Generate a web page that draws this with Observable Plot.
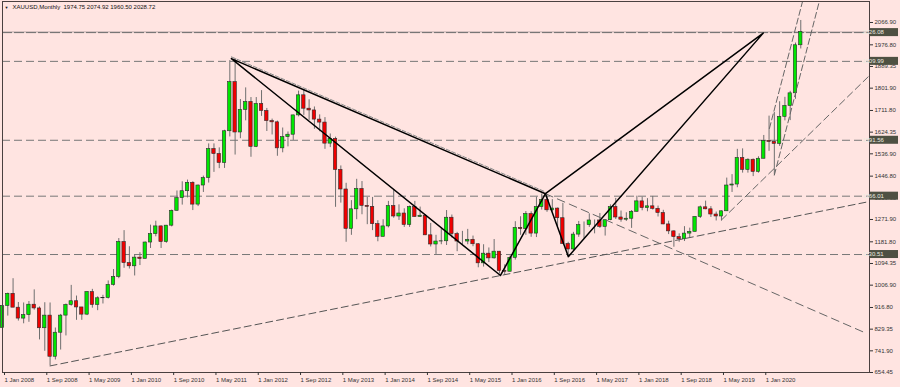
<!DOCTYPE html>
<html><head><meta charset="utf-8">
<script src="https://cdn.jsdelivr.net/npm/d3@7"></script>
<script src="https://cdn.jsdelivr.net/npm/@observablehq/plot@0.6"></script>
<style>
html,body{margin:0;padding:0;background:#ffe4e1;}
#chart{width:900px;height:387px;overflow:hidden;position:relative}
</style></head><body><div id="chart"></div>
<script>
// ---- data (monthly XAUUSD bars, first bar = Jan 2008) ----
const startYear = 2008;
const monthNames = ["Jan","Feb","Mar","Apr","May","Jun","Jul","Aug","Sep","Oct","Nov","Dec"];
const open = [
 834,923,972,916,872,886,928,913,833,884,718,815,
 884,927,942,917,888,979,927,954,955,1008,1040,1181,
 1096,1083,1118,1113,1179,1213,1244,1181,1247,1307,1358,1386,
 1420,1332,1409,1439,1556,1536,1500,1628,1826,1623,1714,1746,
 1565,1738,1710,1669,1664,1559,1604,1614,1692,1773,1719,1712,
 1675,1663,1578,1597,1472,1393,1234,1313,1395,1327,1323,1253,
 1202,1244,1326,1284,1296,1250,1322,1282,1287,1208,1171,1183,
 1184,1279,1213,1183,1183,1190,1172,1095,1134,1115,1142,1064,
 1061,1117,1238,1233,1294,1215,1322,1351,1309,1316,1277,1173,
 1151,1211,1249,1249,1268,1268,1242,1269,1322,1280,1271,1275,
 1303,1345,1318,1325,1315,1298,1252,1224,1201,1192,1215,1222,
 1282,1321,1313,1292,1284,1305,1409,1413,1520,1472,1513,1464,
 1517,1589,1585,1577,1686,1730,1781,1975];
const high = [
 932,975,1033,937,935,941,988,919,936,935,834,889,
 931,1006,963,917,981,990,960,966,1024,1070,1195,1227,
 1162,1128,1138,1181,1249,1265,1246,1248,1310,1387,1424,1431,
 1424,1411,1447,1577,1577,1561,1632,1913,1921,1756,1803,1764,
 1764,1792,1720,1677,1669,1641,1625,1693,1790,1796,1755,1726,
 1694,1683,1617,1604,1488,1418,1348,1434,1425,1361,1361,1267,
 1271,1345,1392,1331,1315,1326,1345,1322,1291,1256,1208,1238,
 1308,1290,1220,1224,1232,1205,1174,1170,1157,1191,1143,1089,
 1124,1263,1283,1304,1303,1362,1375,1367,1352,1318,1337,1180,
 1220,1264,1262,1295,1270,1296,1270,1331,1357,1306,1299,1308,
 1366,1362,1356,1365,1326,1309,1265,1226,1214,1243,1237,1284,
 1326,1346,1324,1302,1306,1439,1453,1555,1557,1517,1516,1525,
 1611,1689,1704,1747,1765,1789,1984,2075];
const low = [
 834,882,920,862,851,857,906,786,740,681,705,745,
 802,922,865,865,884,914,904,931,951,1003,1033,1075,
 1072,1044,1086,1113,1155,1202,1155,1176,1242,1306,1330,1359,
 1308,1324,1381,1419,1462,1477,1478,1605,1532,1598,1670,1523,
 1562,1688,1627,1613,1527,1541,1565,1591,1686,1692,1672,1636,
 1626,1555,1562,1321,1338,1180,1208,1271,1291,1251,1227,1182,
 1202,1238,1277,1268,1240,1240,1281,1281,1207,1161,1131,1170,
 1167,1197,1142,1170,1170,1162,1077,1080,1098,1112,1052,1046,
 1061,1108,1208,1208,1200,1199,1310,1301,1302,1241,1171,1122,
 1146,1200,1195,1240,1214,1236,1205,1267,1272,1261,1264,1236,
 1302,1307,1303,1310,1282,1251,1211,1160,1180,1183,1196,1221,
 1276,1311,1280,1266,1266,1305,1381,1400,1459,1459,1445,1459,
 1517,1547,1451,1567,1670,1671,1757,1960];
const close = [
 923,972,916,872,886,928,913,833,884,718,815,884,
 927,942,917,888,979,927,954,955,1008,1040,1181,1096,
 1083,1118,1113,1179,1213,1244,1181,1247,1307,1358,1386,1420,
 1332,1409,1439,1556,1536,1500,1628,1826,1623,1714,1746,1565,
 1738,1710,1669,1664,1559,1604,1614,1692,1773,1719,1712,1675,
 1663,1578,1597,1472,1393,1234,1313,1395,1327,1323,1253,1202,
 1244,1326,1284,1296,1250,1322,1282,1287,1208,1171,1183,1184,
 1279,1213,1183,1183,1190,1172,1095,1134,1115,1142,1064,1061,
 1117,1238,1233,1294,1215,1322,1351,1309,1316,1277,1173,1151,
 1211,1249,1249,1268,1268,1242,1269,1322,1280,1271,1275,1303,
 1345,1318,1325,1315,1298,1252,1224,1201,1192,1215,1222,1282,
 1321,1313,1292,1284,1305,1409,1413,1520,1472,1513,1464,1517,
 1589,1585,1577,1686,1730,1781,1975,2029];

const yTicks = [654.45,741.90,829.35,916.80,1006.90,1094.35,1181.80,1271.90,1359.35,1446.80,1536.90,1624.35,1711.80,1801.90,1889.35,1976.80,2066.90];
const xTickMonths = ["2008-01","2008-09","2009-05","2010-01","2010-09","2011-05","2012-01","2012-09","2013-05","2014-01","2014-09","2015-05","2016-01","2016-09","2017-05","2018-01","2018-09","2019-05","2020-01"];
const levels = [2026.08, 1909.99, 1591.56, 1366.01, 1130.51];
const bidPrice = 2028.72;
const titleText = "XAUUSD,Monthly  1974.75 2074.92 1960.50 2028.72";
const viewEnd = "2021-09-01";
const priceRange = [654.45, 2151.6];

// harmonic pattern points X, A, B, C, D  [date, price]
const ptX = ["2011-08-10", 1921];
const ptA = ["2015-11-07", 1046];
const ptB = ["2016-07-22", 1376];
const ptC = ["2016-12-02", 1122];
const ptD = ["2019-12-28", 2024];
// trend lines [[date, price], [date, price]]
const supportLine = [["2008-10-01", 681], ["2021-09-01", 1344.5]];
const resistFromB = [["2016-07-22", 1376], ["2021-08-15", 812]];
const rise2019 = [["2019-05-01", 1270], ["2021-09-01", 1853]];
const channelRight = [["2020-03-01", 1451], ["2020-11-16", 2151.6]];
const channelLeft = [["2020-02-03", 1639], ["2020-08-11", 2151.6]];

// ---- helpers ----
const toM = s => { const [Y, M, D] = s.split("-").map(Number); return (Y - startYear) * 12 + (M - 1) + ((D || 1) - 1) / 30; };
const pts = arr => arr.map(([d, p]) => ({m: toM(d), p}));
const candles = open.map((o, i) => ({m: i, o, h: high[i], l: low[i], c: close[i]}));
const up = candles.filter(d => d.c >= d.o), down = candles.filter(d => d.c < d.o);
const fmtX = m => `1 ${monthNames[Math.round(m) % 12]} ${startYear + Math.floor(Math.round(m) / 12)}`;
const FONT = "'Liberation Sans', Arial, sans-serif";

const dashed = (arr, opts) => Plot.line(pts(arr), {x: "m", y: "p", clip: true, strokeWidth: 1, ...opts});

const plot = Plot.plot({
  width: 900, height: 387,
  marginTop: 1, marginBottom: 15, marginLeft: 2, marginRight: 31,
  x: {type: "linear", domain: [0, toM(viewEnd)]},
  y: {domain: priceRange},
  style: {background: "transparent", fontFamily: FONT, fontSize: "6px", color: "#222", overflow: "visible"},
  marks: [
    Plot.ruleY(levels.slice(1), {stroke: "#777", strokeDasharray: "8,4"}),
    Plot.ruleY([bidPrice], {stroke: "#b9aaaa"}),
    Plot.ruleY(levels.slice(0, 1), {stroke: "#6e6e6e", strokeDasharray: "10,2"}),
    Plot.ruleX(candles, {x: "m", y1: "l", y2: "h", stroke: "#6f6f6f", strokeWidth: 1}),
    Plot.rect(up, {x1: d => d.m - 0.32, x2: d => d.m + 0.32, y1: "o", y2: "c", fill: "#00e600", stroke: "#2a2a2a", strokeWidth: 0.6}),
    Plot.rect(down, {x1: d => d.m - 0.32, x2: d => d.m + 0.32, y1: "o", y2: "c", fill: "#f00000", stroke: "#2a2a2a", strokeWidth: 0.6}),
    dashed(supportLine, {stroke: "#555", strokeDasharray: "7,4"}),
    dashed(resistFromB, {stroke: "#666", strokeDasharray: "8,5"}),
    dashed(rise2019, {stroke: "#666", strokeDasharray: "7,4"}),
    dashed(channelRight, {stroke: "#666", strokeDasharray: "6,3"}),
    dashed(channelLeft, {stroke: "#666", strokeDasharray: "6,3"}),
    Plot.line(pts([ptX, ptB]), {x: "m", y: "p", dy: -1.8, stroke: "#8a8a8a", strokeDasharray: "4,2", strokeWidth: 1}),
    Plot.line(pts([ptX, ptA, ptB, ptX]), {x: "m", y: "p", stroke: "#000", strokeWidth: 1.5}),
    Plot.line(pts([ptB, ptC, ptD, ptB]), {x: "m", y: "p", stroke: "#000", strokeWidth: 1.5}),
    Plot.frame({stroke: "#4a4040"}),
    Plot.axisX({ticks: xTickMonths.map(toM), tickFormat: fmtX, tickSize: 3, tickPadding: 2, textAnchor: "start", dx: 2, label: null, color: "#333", fontSize: 6}),
    Plot.axisY({anchor: "right", ticks: yTicks, tickFormat: d => d.toFixed(2), tickSize: 3, tickPadding: 2, label: null, color: "#333", fontSize: 6}),
    Plot.text([titleText], {frameAnchor: "top-left", dx: 10, dy: 6, textAnchor: "start", lineAnchor: "middle", fill: "#111", fontSize: 6}),
    Plot.text(["▼"], {frameAnchor: "top-left", dx: 4, dy: 6, textAnchor: "middle", lineAnchor: "middle", fill: "#111", fontSize: 4})
  ]
});

// highlighted price labels for the horizontal levels, placed with the y scale
const yS = plot.scale("y");
const g = d3.select(plot).append("g").attr("font-family", FONT).attr("font-size", 6);
levels.forEach(v => {
  const y = yS.apply(v);
  g.append("rect").attr("x", 870).attr("y", y - 4).attr("width", 28).attr("height", 8).attr("fill", "#4e5042");
  g.append("text").attr("x", 873).attr("y", y).attr("dy", "0.35em").attr("fill", "#ecece0").text(v.toFixed(2));
});
document.getElementById("chart").append(plot);
</script></body></html>
